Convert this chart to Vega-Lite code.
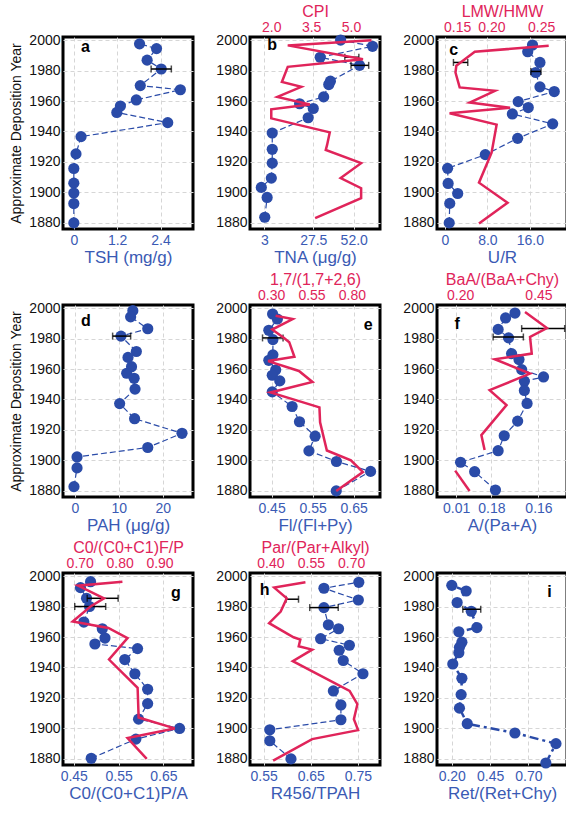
{
"$schema":"https://vega.github.io/schema/vega-lite/v6.json",
"padding":{"left":8,"top":1,"right":0,"bottom":0},
"config":{"font":"Liberation Sans","view":{"stroke":"black","strokeWidth":3},
"axis":{"domain":false,"ticks":false,"labelFontSize":14,"titleFontSize":17,"titleFontWeight":"normal","labelPadding":4,"titlePadding":2,"gridColor":"#d6d6d6","gridDash":[4,3],"gridWidth":1,"labelColor":"#111","titleColor":"#111"},
"axisTop":{"titleFontSize":16,"labelPadding":3,"titlePadding":1},
"axisY":{"grid":true,"labelFontSize":14,"titleFontSize":14,"labelPadding":3,"titlePadding":5,"labelOverlap":false,"tickCount":10}},
"datasets":{
"a_pts":[{"year":1997.5,"v":1.82},{"year":1994.4,"v":2.29},{"year":1986.8,"v":2.03},{"year":1981.0,"v":2.42},{"year":1970.1,"v":1.84},{"year":1967.4,"v":2.95},{"year":1960.7,"v":1.73},{"year":1956.7,"v":1.29},{"year":1952.5,"v":1.19},{"year":1945.8,"v":2.6},{"year":1936.6,"v":0.2},{"year":1925.3,"v":0.06},{"year":1915.7,"v":0},{"year":1906.1,"v":0},{"year":1899.6,"v":0},{"year":1892.7,"v":0},{"year":1880,"v":0}],
"a_err":[{"year":1981.0,"lo":2.14,"hi":2.7}],
"b_pts":[{"year":2000,"v":44.8},{"year":1995.9,"v":62.3},{"year":1988.7,"v":33.6},{"year":1983.4,"v":55.2},{"year":1973.0,"v":39.2},{"year":1970.8,"v":38.3},{"year":1962.7,"v":35.5},{"year":1958.2,"v":22.3},{"year":1955.1,"v":29.8},{"year":1949.0,"v":27.0},{"year":1939.0,"v":7.3},{"year":1928.3,"v":7.3},{"year":1919.2,"v":7.3},{"year":1909.4,"v":6.8},{"year":1903.3,"v":1.3},{"year":1896.7,"v":4.5},{"year":1883.7,"v":3.2}],
"b_err":[{"year":1988.7,"lo":47.1,"hi":54.8},{"year":1983.4,"lo":50.5,"hi":60.2}],
"b_red":[{"year":1999.8,"v":5.77},{"year":1996.5,"v":2.62},{"year":1987.4,"v":5.45},{"year":1982.4,"v":2.62},{"year":1972.5,"v":2.4},{"year":1969.3,"v":3.13},{"year":1962.7,"v":2.23},{"year":1957.7,"v":3.45},{"year":1954.5,"v":2.0},{"year":1948.6,"v":2.0},{"year":1939.4,"v":4.2},{"year":1931.2,"v":4.1},{"year":1927.9,"v":4.05},{"year":1919.2,"v":5.38},{"year":1909.4,"v":4.61},{"year":1902.8,"v":5.38},{"year":1896.3,"v":5.38},{"year":1883.2,"v":3.65}],
"c_pts":[{"year":1996.7,"v":16.5},{"year":1992.3,"v":15.6},{"year":1985.3,"v":17.9},{"year":1978.7,"v":17.1},{"year":1969.3,"v":17.9},{"year":1966.2,"v":20.6},{"year":1959.6,"v":13.8},{"year":1955.7,"v":15.7},{"year":1951.5,"v":12.7},{"year":1945.0,"v":20.3},{"year":1935.5,"v":13.7},{"year":1924.8,"v":7.6},{"year":1915.8,"v":0.5},{"year":1905.9,"v":0.6},{"year":1899.3,"v":2.4},{"year":1892.8,"v":0.9},{"year":1880.0,"v":0.8}],
"c_err":[{"year":1985.3,"lo":1.6,"hi":4.3},{"year":1979.4,"lo":16.2,"hi":18.1}],
"c_red":[{"year":1996.3,"v":0.259},{"year":1992.3,"v":0.171},{"year":1983.1,"v":0.149},{"year":1978.7,"v":0.148},{"year":1968.9,"v":0.153},{"year":1966.7,"v":0.195},{"year":1959.0,"v":0.165},{"year":1955.5,"v":0.213},{"year":1952.0,"v":0.141},{"year":1944.5,"v":0.197},{"year":1926.1,"v":0.191},{"year":1906.4,"v":0.176},{"year":1893.2,"v":0.21},{"year":1879.6,"v":0.176}],
"d_pts":[{"year":1998.3,"v":13.2},{"year":1994.2,"v":12.7},{"year":1986.4,"v":16.6},{"year":1981.6,"v":10.5},{"year":1971.5,"v":14.0},{"year":1967.6,"v":12.1},{"year":1961.5,"v":12.9},{"year":1957.2,"v":11.8},{"year":1953.9,"v":13.5},{"year":1946.8,"v":13.7},{"year":1937.3,"v":10.2},{"year":1927.4,"v":13.6},{"year":1917.8,"v":24.4},{"year":1908.5,"v":16.6},{"year":1902.3,"v":0.5},{"year":1895.1,"v":0.5},{"year":1882.8,"v":-0.2}],
"d_err":[{"year":1981.6,"lo":8.6,"hi":12.7}],
"e_pts":[{"year":1996.1,"v":0.4525},{"year":1992.8,"v":0.4642},{"year":1985.4,"v":0.4433},{"year":1979.3,"v":0.4533},{"year":1969.3,"v":0.4533},{"year":1965.7,"v":0.4433},{"year":1959.3,"v":0.46},{"year":1955.9,"v":0.4517},{"year":1952.2,"v":0.47},{"year":1945.0,"v":0.4517},{"year":1935.4,"v":0.5},{"year":1925.4,"v":0.518},{"year":1915.9,"v":0.556},{"year":1906.3,"v":0.541},{"year":1899.3,"v":0.608},{"year":1892.8,"v":0.691},{"year":1880,"v":0.6075}],
"e_err":[{"year":1980.4,"lo":0.428,"hi":0.478}],
"e_red":[{"year":1995.0,"v":0.3275},{"year":1992.8,"v":0.4335},{"year":1985.9,"v":0.3064},{"year":1980.4,"v":0.38},{"year":1977.6,"v":0.412},{"year":1968.0,"v":0.444},{"year":1965.2,"v":0.281},{"year":1958.7,"v":0.472},{"year":1951.5,"v":0.556},{"year":1944.6,"v":0.296},{"year":1934.8,"v":0.599},{"year":1925.0,"v":0.603},{"year":1906.5,"v":0.645},{"year":1900,"v":0.794},{"year":1892.4,"v":0.868},{"year":1880,"v":0.703}],
"f_pts":[{"year":1996.7,"v":0.1172},{"year":1993.5,"v":0.1001},{"year":1986.0,"v":0.0865},{"year":1980.4,"v":0.1055},{"year":1970.1,"v":0.111},{"year":1966.2,"v":0.1245},{"year":1959.6,"v":0.1294},{"year":1954.8,"v":0.1692},{"year":1952.0,"v":0.1343},{"year":1945.9,"v":0.1343},{"year":1937.4,"v":0.1392},{"year":1925.8,"v":0.1221},{"year":1916.2,"v":0.0976},{"year":1906.4,"v":0.0865},{"year":1898.8,"v":0.018},{"year":1892.6,"v":0.0437},{"year":1880.6,"v":0.0816}],
"f_err":[{"year":1986.5,"lo":0.1294,"hi":0.2078},{"year":1981.0,"lo":0.0774,"hi":0.1325}],
"f_red":[{"year":1997.4,"v":0.407,"seg":1},{"year":1986.9,"v":0.477,"seg":1},{"year":1981.0,"v":0.423,"seg":1},{"year":1970.1,"v":0.4285,"seg":1},{"year":1966.4,"v":0.3105,"seg":1},{"year":1957.0,"v":0.423,"seg":1},{"year":1946.1,"v":0.294,"seg":1},{"year":1936.3,"v":0.348,"seg":1},{"year":1916.6,"v":0.2676,"seg":1},{"year":1906.8,"v":0.278,"seg":1},{"year":1893.3,"v":0.184,"seg":2},{"year":1880.0,"v":0.23,"seg":2}],
"g_pts":[{"year":1996.3,"v":0.4875},{"year":1992.4,"v":0.465},{"year":1985.4,"v":0.4785},{"year":1980.0,"v":0.4852},{"year":1969.8,"v":0.4725},{"year":1965.4,"v":0.5137},{"year":1959.3,"v":0.5197},{"year":1955.4,"v":0.4972},{"year":1952.4,"v":0.5923},{"year":1945.2,"v":0.5639},{"year":1935.9,"v":0.5863},{"year":1925.7,"v":0.6148},{"year":1916.3,"v":0.6148},{"year":1906.1,"v":0.5946},{"year":1900,"v":0.686},{"year":1893.0,"v":0.5886},{"year":1880.4,"v":0.489}],
"g_err":[{"year":1985.4,"lo":0.48,"hi":0.549},{"year":1980.0,"lo":0.4522,"hi":0.5212}],
"g_red":[{"year":1996.3,"v":0.807},{"year":1993.7,"v":0.6958},{"year":1985.4,"v":0.7608},{"year":1980.0,"v":0.727},{"year":1970.2,"v":0.6823},{"year":1965.9,"v":0.7717},{"year":1959.3,"v":0.8198},{"year":1945.2,"v":0.7734},{"year":1926.7,"v":0.8451},{"year":1907.2,"v":0.8477},{"year":1900,"v":0.938},{"year":1893.7,"v":0.8198},{"year":1880,"v":0.868}],
"h_pts":[{"year":1995.9,"v":0.752},{"year":1992.0,"v":0.678},{"year":1984.3,"v":0.751},{"year":1979.3,"v":0.678},{"year":1968.0,"v":0.6874},{"year":1965.4,"v":0.709},{"year":1958.9,"v":0.6709},{"year":1954.6,"v":0.732},{"year":1951.3,"v":0.7104},{"year":1944.6,"v":0.719},{"year":1935.9,"v":0.7608},{"year":1924.6,"v":0.698},{"year":1915.4,"v":0.714},{"year":1905.7,"v":0.714},{"year":1899.1,"v":0.563},{"year":1891.9,"v":0.563},{"year":1880,"v":0.608}],
"h_err":[{"year":1984.8,"lo":0.5975,"hi":0.624},{"year":1979.3,"lo":0.6478,"hi":0.7083}],
"h_red":[{"year":1995.9,"v":0.53},{"year":1992.4,"v":0.414},{"year":1985.4,"v":0.4605},{"year":1976.7,"v":0.438},{"year":1969.1,"v":0.395},{"year":1959.8,"v":0.4858},{"year":1958.3,"v":0.511},{"year":1953.9,"v":0.505},{"year":1951.7,"v":0.555},{"year":1944.1,"v":0.483},{"year":1924.6,"v":0.694},{"year":1915.9,"v":0.723},{"year":1906.1,"v":0.71},{"year":1898.9,"v":0.7256},{"year":1893.0,"v":0.555},{"year":1878.9,"v":0.41}],
"i_pts":[{"year":1993.9,"v":0.2},{"year":1990.2,"v":0.294},{"year":1982.6,"v":0.235},{"year":1976.9,"v":0.327},{"year":1966.2,"v":0.364},{"year":1963.4,"v":0.246},{"year":1956.6,"v":0.266},{"year":1953.2,"v":0.25},{"year":1949.7,"v":0.246},{"year":1942.3,"v":0.2066},{"year":1932.9,"v":0.266},{"year":1922.2,"v":0.261},{"year":1913.3,"v":0.25},{"year":1903.1,"v":0.301},{"year":1897.0,"v":0.612},{"year":1890.0,"v":0.88},{"year":1877.3,"v":0.814}],
"i_err":[{"year":1978.2,"lo":0.272,"hi":0.389}]
},
"columns":3,
"spacing":{"row":76,"column":57},
"bounds":"flush",
"align":"all",
"concat":[
{"width":130,"height":192,"layer":[
 {"data":{"name":"a_pts"},"mark":{"type":"line","color":"#2a4ba8","strokeWidth":1.2,"strokeDash":[6,3]},"encoding":{"x":{"field":"v","type":"quantitative","title":"TSH (mg/g)","scale":{"domain":[-0.3,3.3],"nice":false,"zero":false},"axis":{"values":[0,1.2,2.4],"labelExpr":"datum.value == 0 ? '0' : format(datum.value, '.1f')","grid":true,"labelColor":"#3a5ab4","titleColor":"#3a5ab4"}},"y":{"field":"year","type":"quantitative","title":"Approximate Deposition Year","scale":{"domain":[1876,2002],"nice":false,"zero":false},"axis":{"values":[1880,1900,1920,1940,1960,1980,2000],"format":"d","tickCount":10}},"order":{"field":"year","type":"quantitative"}}},
 {"data":{"name":"a_pts"},"mark":{"type":"circle","size":125,"color":"#2a4ba8","opacity":1},"encoding":{"x":{"field":"v","type":"quantitative","title":"TSH (mg/g)"},"y":{"field":"year","type":"quantitative","title":"Approximate Deposition Year"}}},
 {"data":{"name":"a_err"},"mark":{"type":"errorbar","ticks":{"size":7},"color":"black","thickness":1.5},"encoding":{"x":{"field":"lo","type":"quantitative","title":"TSH (mg/g)"},"x2":{"field":"hi"},"y":{"field":"year","type":"quantitative","title":"Approximate Deposition Year"}}},
 {"data":{"values":[{}]},"mark":{"type":"text","text":"a","fontSize":16,"fontWeight":"bold","color":"black"},"encoding":{"x":{"datum":0.32,"type":"quantitative"},"y":{"datum":1995.5,"type":"quantitative"}}}
]},
{"width":130,"height":192,"layer":[
 {"layer":[
  {"data":{"name":"b_pts"},"mark":{"type":"line","color":"#2a4ba8","strokeWidth":1.2,"strokeDash":[6,3]},"encoding":{"x":{"field":"v","type":"quantitative","title":"TNA (μg/g)","scale":{"domain":[-4.9,66.4],"nice":false,"zero":false},"axis":{"values":[3,29.8,52],"labelExpr":"datum.value < 10 ? '3' : datum.value < 40 ? '27.5' : '52.0'","grid":true,"labelColor":"#3a5ab4","titleColor":"#3a5ab4"}},"y":{"field":"year","type":"quantitative","title":null,"scale":{"domain":[1876,2002],"nice":false,"zero":false},"axis":{"values":[1880,1900,1920,1940,1960,1980,2000],"format":"d","tickCount":10}},"order":{"field":"year","type":"quantitative"}}},
  {"data":{"name":"b_pts"},"mark":{"type":"circle","size":125,"color":"#2a4ba8","opacity":1},"encoding":{"x":{"field":"v","type":"quantitative","title":"TNA (μg/g)"},"y":{"field":"year","type":"quantitative","title":null}}},
  {"data":{"name":"b_err"},"mark":{"type":"errorbar","ticks":{"size":7},"color":"black","thickness":1.5},"encoding":{"x":{"field":"lo","type":"quantitative","title":"TNA (μg/g)"},"x2":{"field":"hi"},"y":{"field":"year","type":"quantitative","title":null}}},
  {"data":{"values":[{}]},"mark":{"type":"text","text":"b","fontSize":16,"fontWeight":"bold","color":"black"},"encoding":{"x":{"datum":7.3,"type":"quantitative"},"y":{"datum":1996.5,"type":"quantitative"}}}
 ]},
 {"data":{"name":"b_red"},"mark":{"type":"line","color":"#e0245a","strokeWidth":2.5},"encoding":{"x":{"field":"v","type":"quantitative","title":"CPI","scale":{"domain":[1.2,6.09],"nice":false,"zero":false},"axis":{"orient":"top","values":[2,3.5,5],"format":".1f","grid":false,"labelColor":"#e0245a","titleColor":"#e0245a"}},"y":{"field":"year","type":"quantitative","title":null},"order":{"field":"year","type":"quantitative"}}}
],"resolve":{"scale":{"x":"independent"},"axis":{"x":"independent"}}},
{"width":130,"height":192,"layer":[
 {"layer":[
  {"data":{"name":"c_pts"},"mark":{"type":"line","color":"#2a4ba8","strokeWidth":1.2,"strokeDash":[6,3]},"encoding":{"x":{"field":"v","type":"quantitative","title":"U/R","scale":{"domain":[-1.5,23.0],"nice":false,"zero":false},"axis":{"values":[0,8,16],"labelExpr":"datum.value == 0 ? '0' : format(datum.value, '.1f')","grid":true,"labelColor":"#3a5ab4","titleColor":"#3a5ab4"}},"y":{"field":"year","type":"quantitative","title":null,"scale":{"domain":[1876,2002],"nice":false,"zero":false},"axis":{"values":[1880,1900,1920,1940,1960,1980,2000],"format":"d","tickCount":10}},"order":{"field":"year","type":"quantitative"}}},
  {"data":{"name":"c_pts"},"mark":{"type":"circle","size":125,"color":"#2a4ba8","opacity":1},"encoding":{"x":{"field":"v","type":"quantitative","title":"U/R"},"y":{"field":"year","type":"quantitative","title":null}}},
  {"data":{"name":"c_err"},"mark":{"type":"errorbar","ticks":{"size":7},"color":"black","thickness":1.5},"encoding":{"x":{"field":"lo","type":"quantitative","title":"U/R"},"x2":{"field":"hi"},"y":{"field":"year","type":"quantitative","title":null}}},
  {"data":{"values":[{}]},"mark":{"type":"text","text":"c","fontSize":16,"fontWeight":"bold","color":"black"},"encoding":{"x":{"datum":1.65,"type":"quantitative"},"y":{"datum":1993.4,"type":"quantitative"}}}
 ]},
 {"data":{"name":"c_red"},"mark":{"type":"line","color":"#e0245a","strokeWidth":2.5},"encoding":{"x":{"field":"v","type":"quantitative","title":"LMW/HMW","scale":{"domain":[0.126,0.2808],"nice":false,"zero":false},"axis":{"orient":"top","values":[0.15,0.1908,0.25],"labelExpr":"datum.value < 0.17 ? '0.15' : datum.value < 0.22 ? '0.20' : '0.25'","grid":false,"labelColor":"#e0245a","titleColor":"#e0245a"}},"y":{"field":"year","type":"quantitative","title":null},"order":{"field":"year","type":"quantitative"}}}
],"resolve":{"scale":{"x":"independent"},"axis":{"x":"independent"}}},
{"width":130,"height":192,"layer":[
 {"data":{"name":"d_pts"},"mark":{"type":"line","color":"#2a4ba8","strokeWidth":1.2,"strokeDash":[6,3]},"encoding":{"x":{"field":"v","type":"quantitative","title":"PAH (μg/g)","scale":{"domain":[-2.7,26.9],"nice":false,"zero":false},"axis":{"values":[0,10,20],"format":"d","grid":true,"labelColor":"#3a5ab4","titleColor":"#3a5ab4"}},"y":{"field":"year","type":"quantitative","title":"Approximate Deposition Year","scale":{"domain":[1876,2002],"nice":false,"zero":false},"axis":{"values":[1880,1900,1920,1940,1960,1980,2000],"format":"d","tickCount":10}},"order":{"field":"year","type":"quantitative"}}},
 {"data":{"name":"d_pts"},"mark":{"type":"circle","size":125,"color":"#2a4ba8","opacity":1},"encoding":{"x":{"field":"v","type":"quantitative","title":"PAH (μg/g)"},"y":{"field":"year","type":"quantitative","title":"Approximate Deposition Year"}}},
 {"data":{"name":"d_err"},"mark":{"type":"errorbar","ticks":{"size":7},"color":"black","thickness":1.5},"encoding":{"x":{"field":"lo","type":"quantitative","title":"PAH (μg/g)"},"x2":{"field":"hi"},"y":{"field":"year","type":"quantitative","title":"Approximate Deposition Year"}}},
 {"data":{"values":[{}]},"mark":{"type":"text","text":"d","fontSize":16,"fontWeight":"bold","color":"black"},"encoding":{"x":{"datum":2.5,"type":"quantitative"},"y":{"datum":1991.4,"type":"quantitative"}}}
]},
{"width":130,"height":192,"layer":[
 {"layer":[
  {"data":{"name":"e_pts"},"mark":{"type":"line","color":"#2a4ba8","strokeWidth":1.2,"strokeDash":[6,3]},"encoding":{"x":{"field":"v","type":"quantitative","title":"Fl/(Fl+Py)","scale":{"domain":[0.3975,0.714],"nice":false,"zero":false},"axis":{"values":[0.45,0.55,0.65],"format":".2f","grid":true,"labelColor":"#3a5ab4","titleColor":"#3a5ab4"}},"y":{"field":"year","type":"quantitative","title":null,"scale":{"domain":[1876,2002],"nice":false,"zero":false},"axis":{"values":[1880,1900,1920,1940,1960,1980,2000],"format":"d","tickCount":10}},"order":{"field":"year","type":"quantitative"}}},
  {"data":{"name":"e_pts"},"mark":{"type":"circle","size":125,"color":"#2a4ba8","opacity":1},"encoding":{"x":{"field":"v","type":"quantitative","title":"Fl/(Fl+Py)"},"y":{"field":"year","type":"quantitative","title":null}}},
  {"data":{"name":"e_err"},"mark":{"type":"errorbar","ticks":{"size":7},"color":"black","thickness":1.5},"encoding":{"x":{"field":"lo","type":"quantitative","title":"Fl/(Fl+Py)"},"x2":{"field":"hi"},"y":{"field":"year","type":"quantitative","title":null}}},
  {"data":{"values":[{}]},"mark":{"type":"text","text":"e","fontSize":16,"fontWeight":"bold","color":"black"},"encoding":{"x":{"datum":0.685,"type":"quantitative"},"y":{"datum":1989.1,"type":"quantitative"}}}
 ]},
 {"data":{"name":"e_red"},"mark":{"type":"line","color":"#e0245a","strokeWidth":2.5},"encoding":{"x":{"field":"v","type":"quantitative","title":"1,7/(1,7+2,6)","scale":{"domain":[0.169,0.974],"nice":false,"zero":false},"axis":{"orient":"top","values":[0.3,0.55,0.8],"format":".2f","grid":false,"labelColor":"#e0245a","titleColor":"#e0245a"}},"y":{"field":"year","type":"quantitative","title":null},"order":{"field":"year","type":"quantitative"}}}
],"resolve":{"scale":{"x":"independent"},"axis":{"x":"independent"}}},
{"width":130,"height":192,"layer":[
 {"layer":[
  {"data":{"name":"f_pts"},"mark":{"type":"line","color":"#2a4ba8","strokeWidth":1.2,"strokeDash":[6,3]},"encoding":{"x":{"field":"v","type":"quantitative","title":"A/(Pa+A)","scale":{"domain":[-0.0249,0.212],"nice":false,"zero":false},"axis":{"values":[0.01,0.0743,0.16],"labelExpr":"datum.value < 0.05 ? '0.01' : datum.value < 0.1 ? '0.18' : '0.16'","grid":true,"labelColor":"#3a5ab4","titleColor":"#3a5ab4"}},"y":{"field":"year","type":"quantitative","title":null,"scale":{"domain":[1876,2002],"nice":false,"zero":false},"axis":{"values":[1880,1900,1920,1940,1960,1980,2000],"format":"d","tickCount":10}},"order":{"field":"year","type":"quantitative"}}},
  {"data":{"name":"f_pts"},"mark":{"type":"circle","size":125,"color":"#2a4ba8","opacity":1},"encoding":{"x":{"field":"v","type":"quantitative","title":"A/(Pa+A)"},"y":{"field":"year","type":"quantitative","title":null}}},
  {"data":{"name":"f_err"},"mark":{"type":"errorbar","ticks":{"size":7},"color":"black","thickness":1.5},"encoding":{"x":{"field":"lo","type":"quantitative","title":"A/(Pa+A)"},"x2":{"field":"hi"},"y":{"field":"year","type":"quantitative","title":null}}},
  {"data":{"values":[{}]},"mark":{"type":"text","text":"f","fontSize":16,"fontWeight":"bold","color":"black"},"encoding":{"x":{"datum":0.0118,"type":"quantitative"},"y":{"datum":1989.7,"type":"quantitative"}}}
 ]},
 {"data":{"name":"f_red"},"mark":{"type":"line","color":"#e0245a","strokeWidth":2.5},"encoding":{"x":{"field":"v","type":"quantitative","title":"BaA/(BaA+Chy)","scale":{"domain":[0.126,0.541],"nice":false,"zero":false},"axis":{"orient":"top","values":[0.2,0.45],"format":".2f","grid":false,"labelColor":"#e0245a","titleColor":"#e0245a"}},"y":{"field":"year","type":"quantitative","title":null},"detail":{"field":"seg","type":"nominal"},"order":{"field":"year","type":"quantitative"}}}
],"resolve":{"scale":{"x":"independent"},"axis":{"x":"independent"}}},
{"width":130,"height":192,"layer":[
 {"layer":[
  {"data":{"name":"g_pts"},"mark":{"type":"line","color":"#2a4ba8","strokeWidth":1.2,"strokeDash":[6,3]},"encoding":{"x":{"field":"v","type":"quantitative","title":"C0/(C0+C1)P/A","scale":{"domain":[0.426,0.716],"nice":false,"zero":false},"axis":{"values":[0.45,0.55,0.65],"format":".2f","grid":true,"labelColor":"#3a5ab4","titleColor":"#3a5ab4"}},"y":{"field":"year","type":"quantitative","title":"Approximate Deposition Year","scale":{"domain":[1876,2002],"nice":false,"zero":false},"axis":{"values":[1880,1900,1920,1940,1960,1980,2000],"format":"d","tickCount":10}},"order":{"field":"year","type":"quantitative"}}},
  {"data":{"name":"g_pts"},"mark":{"type":"circle","size":125,"color":"#2a4ba8","opacity":1},"encoding":{"x":{"field":"v","type":"quantitative","title":"C0/(C0+C1)P/A"},"y":{"field":"year","type":"quantitative","title":"Approximate Deposition Year"}}},
  {"data":{"name":"g_err"},"mark":{"type":"errorbar","ticks":{"size":7},"color":"black","thickness":1.5},"encoding":{"x":{"field":"lo","type":"quantitative","title":"C0/(C0+C1)P/A"},"x2":{"field":"hi"},"y":{"field":"year","type":"quantitative","title":"Approximate Deposition Year"}}},
  {"data":{"values":[{}]},"mark":{"type":"text","text":"g","fontSize":16,"fontWeight":"bold","color":"black"},"encoding":{"x":{"datum":0.678,"type":"quantitative"},"y":{"datum":1989.1,"type":"quantitative"}}}
 ]},
 {"data":{"name":"g_red"},"mark":{"type":"line","color":"#e0245a","strokeWidth":2.5},"encoding":{"x":{"field":"v","type":"quantitative","title":"C0/(C0+C1)F/P","scale":{"domain":[0.658,0.984],"nice":false,"zero":false},"axis":{"orient":"top","values":[0.7,0.8,0.9],"format":".2f","grid":false,"labelColor":"#e0245a","titleColor":"#e0245a"}},"y":{"field":"year","type":"quantitative","title":null},"order":{"field":"year","type":"quantitative"}}}
],"resolve":{"scale":{"x":"independent"},"axis":{"x":"independent"}}},
{"width":130,"height":192,"layer":[
 {"layer":[
  {"data":{"name":"h_pts"},"mark":{"type":"line","color":"#2a4ba8","strokeWidth":1.2,"strokeDash":[6,3]},"encoding":{"x":{"field":"v","type":"quantitative","title":"R456/TPAH","scale":{"domain":[0.521,0.797],"nice":false,"zero":false},"axis":{"values":[0.55,0.65,0.75],"format":".2f","grid":true,"labelColor":"#3a5ab4","titleColor":"#3a5ab4"}},"y":{"field":"year","type":"quantitative","title":null,"scale":{"domain":[1876,2002],"nice":false,"zero":false},"axis":{"values":[1880,1900,1920,1940,1960,1980,2000],"format":"d","tickCount":10}},"order":{"field":"year","type":"quantitative"}}},
  {"data":{"name":"h_pts"},"mark":{"type":"circle","size":125,"color":"#2a4ba8","opacity":1},"encoding":{"x":{"field":"v","type":"quantitative","title":"R456/TPAH"},"y":{"field":"year","type":"quantitative","title":null}}},
  {"data":{"name":"h_err"},"mark":{"type":"errorbar","ticks":{"size":7},"color":"black","thickness":1.5},"encoding":{"x":{"field":"lo","type":"quantitative","title":"R456/TPAH"},"x2":{"field":"hi"},"y":{"field":"year","type":"quantitative","title":null}}},
  {"data":{"values":[{}]},"mark":{"type":"text","text":"h","fontSize":16,"fontWeight":"bold","color":"black"},"encoding":{"x":{"datum":0.552,"type":"quantitative"},"y":{"datum":1990.9,"type":"quantitative"}}}
 ]},
 {"data":{"name":"h_red"},"mark":{"type":"line","color":"#e0245a","strokeWidth":2.5},"encoding":{"x":{"field":"v","type":"quantitative","title":"Par/(Par+Alkyl)","scale":{"domain":[0.324,0.807],"nice":false,"zero":false},"axis":{"orient":"top","values":[0.4,0.55,0.7],"format":".2f","grid":false,"labelColor":"#e0245a","titleColor":"#e0245a"}},"y":{"field":"year","type":"quantitative","title":null},"order":{"field":"year","type":"quantitative"}}}
],"resolve":{"scale":{"x":"independent"},"axis":{"x":"independent"}}},
{"width":130,"height":192,"layer":[
 {"data":{"name":"i_pts"},"mark":{"type":"line","color":"#2a4ba8","strokeWidth":2.5,"strokeDash":[9,4,3,4]},"encoding":{"x":{"field":"v","type":"quantitative","title":"Ret/(Ret+Chy)","scale":{"domain":[0.1035,0.952],"nice":false,"zero":false},"axis":{"values":[0.2,0.45,0.7],"format":".2f","grid":true,"labelColor":"#3a5ab4","titleColor":"#3a5ab4"}},"y":{"field":"year","type":"quantitative","title":null,"scale":{"domain":[1876,2002],"nice":false,"zero":false},"axis":{"values":[1880,1900,1920,1940,1960,1980,2000],"format":"d","tickCount":10}},"order":{"field":"year","type":"quantitative"}}},
 {"data":{"name":"i_pts"},"mark":{"type":"circle","size":125,"color":"#2a4ba8","opacity":1},"encoding":{"x":{"field":"v","type":"quantitative","title":"Ret/(Ret+Chy)"},"y":{"field":"year","type":"quantitative","title":null}}},
 {"data":{"name":"i_err"},"mark":{"type":"errorbar","ticks":{"size":7},"color":"black","thickness":1.5},"encoding":{"x":{"field":"lo","type":"quantitative","title":"Ret/(Ret+Chy)"},"x2":{"field":"hi"},"y":{"field":"year","type":"quantitative","title":null}}},
 {"data":{"values":[{}]},"mark":{"type":"text","text":"i","fontSize":16,"fontWeight":"bold","color":"black"},"encoding":{"x":{"datum":0.838,"type":"quantitative"},"y":{"datum":1989.5,"type":"quantitative"}}}
]}
]
}
